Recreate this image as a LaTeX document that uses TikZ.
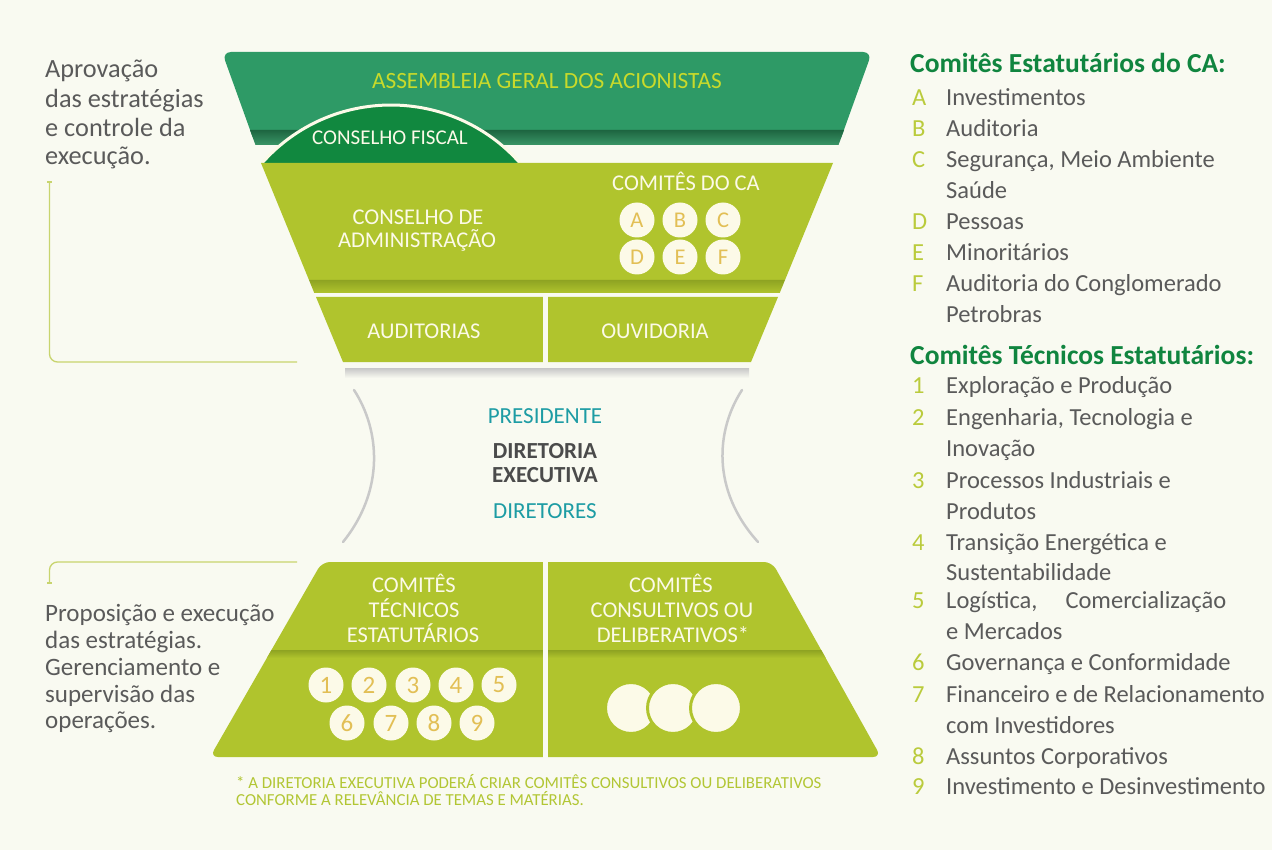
\documentclass[tikz,border=0pt]{standalone}
\usepackage{fontspec}
\setmainfont{Carlito}
\definecolor{bgc}{HTML}{F9FAF1}
\definecolor{asm}{HTML}{2E9A66}
\definecolor{asmdark}{HTML}{1D6540}
\definecolor{asmband}{HTML}{3A9567}
\definecolor{fisc}{HTML}{11883F}
\definecolor{lg}{HTML}{B0C42D}
\definecolor{lgdark}{HTML}{8EA322}
\definecolor{cream}{HTML}{FCFAE8}
\definecolor{asmtxt}{HTML}{C8DA2B}
\definecolor{tealc}{HTML}{1D9CA4}
\definecolor{dgray}{HTML}{4B4B4B}
\definecolor{txt}{HTML}{5A5A5A}
\definecolor{headg}{HTML}{10853F}
\definecolor{keyc}{HTML}{BACB3C}
\definecolor{footc}{HTML}{B2C634}
\definecolor{circtxt}{HTML}{E2BF55}
\definecolor{curvec}{HTML}{C9C9C9}
\definecolor{brkc}{HTML}{C8D46E}
\begin{document}
\begin{tikzpicture}[x=1pt,y=-1pt,
  lbl/.style={font=\fontsize{22.5}{26}\selectfont, text=cream, anchor=base, inner sep=0pt},
  midtxt/.style={font=\fontsize{23}{26}\selectfont, anchor=base, inner sep=0pt},
  bodytxt/.style={font=\fontsize{25}{29}\selectfont, text=txt, anchor=base west, inner sep=0pt},
  bodybig/.style={bodytxt, font=\fontsize{26.3}{30}\selectfont},
  listitem/.style={font=\fontsize{24.5}{28}\selectfont, text=txt, anchor=base west, inner sep=0pt},
  listkey/.style={font=\fontsize{24.5}{28}\selectfont, text=keyc, anchor=base west, inner sep=0pt},
  listhead/.style={font=\bfseries\fontsize{27.5}{30}\selectfont, text=headg, anchor=base west, inner sep=0pt},
  circ/.style={circle, fill=cream, minimum size=35pt, inner sep=0pt, text=circtxt, font=\fontsize{22.5}{25}\selectfont},
  numc/.style={circ, font=\fontsize{25}{28}\selectfont},
  bigc/.style={circle, fill=cream, draw=lg, line width=3pt, minimum size=51pt, inner sep=0pt},
  brk/.style={draw=brkc, line width=1.3pt},
  grcurve/.style={draw=curvec, line width=2.5pt, line cap=round},
  fnote/.style={font=\fontsize{16.8}{19}\selectfont, text=footc, anchor=base west, inner sep=0pt}
]
\useasboundingbox (0,0) rectangle (1272,850);
\fill[bgc] (0,0) rectangle (1272,850);

% ---- Assembleia
\fill[asm, rounded corners=9pt] (222,52) -- (872,52) -- (838.5,145) -- (255.5,145) -- cycle;
\shade[top color=asmdark, bottom color=asmband] (250,130) -- (844,130) -- (838.5,145) -- (255.5,145) -- cycle;
% ---- Conselho fiscal dome
\draw[fill=fisc, draw=cream, line width=3pt] (262,163) .. controls (330.7,85.7) and (451.3,85.7) .. (520,163);
% ---- Conselho de administracao
\fill[lg] (261,163) -- (833,163) -- (785,280) -- (309,280) -- cycle;
\shade[top color=lgdark, bottom color=lg] (309,280) -- (785,280) -- (779.7,293) -- (314.3,293) -- cycle;
% ---- Auditorias / Ouvidoria
\fill[lg] (316,297) -- (778,297) -- (751,362) -- (343,362) -- cycle;
\fill[bgc] (543,296) rectangle (548,363);
\shade[top color=black!22, bottom color=bgc] (345,368) rectangle (749,378);

% ---- grey curves
\draw[grcurve] (354,390) .. controls (380,430) and (385,490) .. (343,542);
\draw[grcurve] (742,390) .. controls (716,430) and (711,490) .. (758,542);

% ---- bottom trapezoid
\fill[lg, rounded corners=8pt] (322,562) -- (772,562) -- (881,757) -- (210,757) -- cycle;
\shade[top color=lgdark, bottom color=lg] (271.5,650) -- (821.2,650) -- (825.7,658) -- (266.9,658) -- cycle;
\fill[bgc] (543,559) rectangle (548,760);

% ---- brackets
\draw[brk] (47,182) -- (52,182);
\draw[brk, rounded corners=8pt] (49.5,182) -- (49.5,362) -- (297,362);
\draw[brk, rounded corners=8pt] (297,562) -- (49.5,562) -- (49.5,583);
\draw[brk] (47,583) -- (52,583);

% ---- funnel labels
\node[lbl, text=asmtxt, font=\fontsize{23.3}{26}\selectfont] (asmT) at (547,88.5) {ASSEMBLEIA GERAL DOS ACIONISTAS};
\node[lbl, font=\fontsize{21}{24}\selectfont] (fiscT) at (390,145) {CONSELHO FISCAL};
\node[lbl] (caT1) at (418,225) {CONSELHO DE};
\node[lbl] (caT2) at (417,248) {ADMINISTRAÇÃO};
\node[lbl] (comT) at (686,191) {COMITÊS DO CA};
\node[circ] (cA) at (637,220) {A};
\node[circ] (cB) at (680,220) {B};
\node[circ] (cC) at (723,220) {C};
\node[circ] (cD) at (637,257) {D};
\node[circ] (cE) at (680,257) {E};
\node[circ] (cF) at (723,257) {F};
\node[lbl] (audT) at (424,339) {AUDITORIAS};
\node[lbl] (ouvT) at (655,339) {OUVIDORIA};

\node[midtxt, text=tealc] (presT) at (545,423) {PRESIDENTE};
\node[midtxt, text=dgray, font=\bfseries\fontsize{23}{26}\selectfont] (dirT1) at (545,458) {DIRETORIA};
\node[midtxt, text=dgray, font=\bfseries\fontsize{23}{26}\selectfont] (dirT2) at (545,482) {EXECUTIVA};
\node[midtxt, text=tealc] (dirsT) at (545,518) {DIRETORES};

\node[lbl] (ctT1) at (414,592) {COMITÊS};
\node[lbl] (ctT2) at (414,617) {TÉCNICOS};
\node[lbl] (ctT3) at (413,642) {ESTATUTÁRIOS};
\node[lbl] (ccT1) at (671,592) {COMITÊS};
\node[lbl] (ccT2) at (672,617) {CONSULTIVOS OU};
\node[lbl] (ccT3) at (673,642) {DELIBERATIVOS*};

\node[numc] (n1) at (326,685) {1};
\node[numc] (n2) at (369,685) {2};
\node[numc] (n3) at (413,685) {3};
\node[numc] (n4) at (456,685) {4};
\node[numc] (n5) at (499,685) {5};
\node[numc] (n6) at (347,723) {6};
\node[numc] (n7) at (391,723) {7};
\node[numc] (n8) at (434,723) {8};
\node[numc] (n9) at (477,723) {9};

\node[bigc] (b1) at (631,708) {};
\node[bigc] (b2) at (673,708) {};
\node[bigc] (b3) at (716,708) {};

% ---- footnote
\node[fnote] (fn1) at (236,788) {* A DIRETORIA EXECUTIVA PODERÁ CRIAR COMITÊS CONSULTIVOS OU DELIBERATIVOS};
\node[fnote] (fn2) at (236,805) {CONFORME A RELEVÂNCIA DE TEMAS E MATÉRIAS.};

% ---- left texts
\node[bodybig] (l1) at (45,78) {Aprovação};
\node[bodybig] (l2) at (45,108) {das estratégias};
\node[bodybig] (l3) at (45,137) {e controle da};
\node[bodybig] (l4) at (45,165) {execução.};
\node[bodytxt] (m1) at (45,621) {Proposição e execução};
\node[bodytxt] (m2) at (45,648) {das estratégias.};
\node[bodytxt] (m3) at (45,675) {Gerenciamento e};
\node[bodytxt] (m4) at (45,702) {supervisão das};
\node[bodytxt] (m5) at (45,728) {operações.};

% ---- right list
\node[listhead] (h1) at (910,73) {Comitês Estatutários do CA:};
\node[listkey] (kA) at (912,106) {A};
\node[listitem] (iA) at (946,106) {Investimentos};
\node[listkey] (kB) at (912,137) {B};
\node[listitem] (iB) at (946,137) {Auditoria};
\node[listkey] (kC) at (912,168) {C};
\node[listitem] (iC) at (946,168) {Segurança, Meio Ambiente};
\node[listitem] (iC2) at (946,199) {Saúde};
\node[listkey] (kD) at (912,230) {D};
\node[listitem] (iD) at (946,230) {Pessoas};
\node[listkey] (kE) at (912,261) {E};
\node[listitem] (iE) at (946,261) {Minoritários};
\node[listkey] (kF) at (912,292) {F};
\node[listitem] (iF) at (946,292) {Auditoria do Conglomerado};
\node[listitem] (iF2) at (946,323) {Petrobras};
\node[listhead] (h2) at (910,364) {Comitês Técnicos Estatutários:};
\node[listkey] (k1) at (912,393) {1};
\node[listitem] (i1) at (946,393) {Exploração e Produção};
\node[listkey] (k2) at (912,425) {2};
\node[listitem] (i2) at (946,425) {Engenharia, Tecnologia e};
\node[listitem] (i2b) at (946,456) {Inovação};
\node[listkey] (k3) at (912,488) {3};
\node[listitem] (i3) at (946,488) {Processos Industriais e};
\node[listitem] (i3b) at (946,519) {Produtos};
\node[listkey] (k4) at (912,550) {4};
\node[listitem] (i4) at (946,550) {Transição Energética e};
\node[listitem] (i4b) at (946,580) {Sustentabilidade};
\node[listkey] (k5) at (912,608) {5};
\node[listitem] (i5) at (946,608) {Logística,\hspace{28pt}Comercialização};
\node[listitem] (i5b) at (946,639) {e Mercados};
\node[listkey] (k6) at (912,670) {6};
\node[listitem] (i6) at (946,670) {Governança e Conformidade};
\node[listkey] (k7) at (912,702) {7};
\node[listitem] (i7) at (946,702) {Financeiro e de Relacionamento};
\node[listitem] (i7b) at (946,733) {com Investidores};
\node[listkey] (k8) at (912,764) {8};
\node[listitem] (i8) at (946,764) {Assuntos Corporativos};
\node[listkey] (k9) at (912,794) {9};
\node[listitem] (i9) at (946,794) {Investimento e Desinvestimento};
\end{tikzpicture}
\end{document}
